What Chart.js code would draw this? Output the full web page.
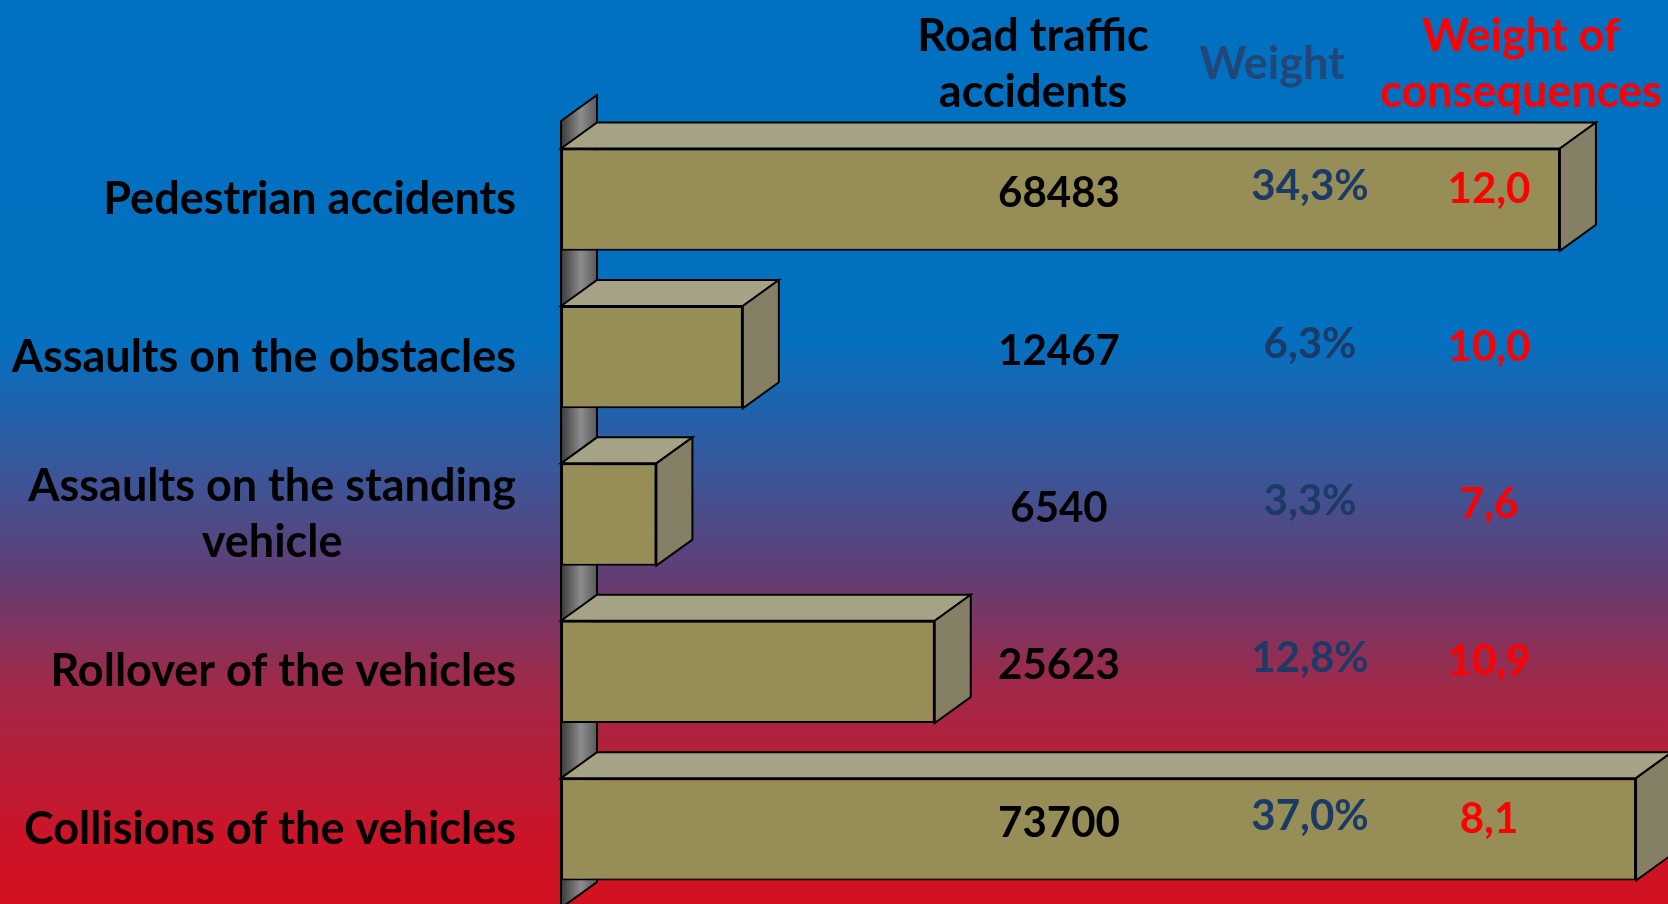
<!DOCTYPE html>
<html>
<head>
<meta charset="utf-8">
<script src="https://cdn.jsdelivr.net/npm/chart.js@4"></script>
<style>
  html, body { margin: 0; padding: 0; overflow: hidden; }
  body {
    width: 1668px; height: 904px;
    background: linear-gradient(to bottom, #0070C0 0px, #0470BF 340px, #35599E 460px, #603F76 570px, #A22848 690px, #CC1428 840px, #D2121F 904px);
  }
  #wrap { position: relative; width: 1668px; height: 908px; }
</style>
</head>
<body>
<div id="wrap"><canvas id="c"></canvas></div>
<script>
// ---- data ----
const categories = [
  'Pedestrian accidents',
  'Assaults on the obstacles',
  ['Assaults on the standing', 'vehicle'],
  'Rollover of the vehicles',
  'Collisions of the vehicles'
];
const accidents = [68483, 12467, 6540, 25623, 73700];
const weights = [34.3, 6.3, 3.3, 12.8, 37.0];
const consequences = [12.0, 10.0, 7.6, 10.9, 8.1];
const headerAccidents = ['Road traffic', 'accidents'];
const headerWeight = ['Weight'];
const headerConsequences = ['Weight of', 'consequences'];
const xMax = 75000;

// ---- styling ----
const FONT = 'Lato, "Noto Sans", sans-serif';
const DX = 36, DY = 26;
const FRONT = '#968D57', TOP = '#A6A286', SIDE = '#858065';
const fmt1 = v => v.toFixed(1).replace('.', ',');

const box3d = {
  id: 'box3d',
  beforeDatasetsDraw(chart) {
    const ctx = chart.ctx, a = chart.chartArea;
    // axis wall
    ctx.save();
    const g = ctx.createLinearGradient(a.left, 0, a.left + DX, 0);
    g.addColorStop(0, '#3a3a3a');
    g.addColorStop(0.55, '#8c8c8c');
    g.addColorStop(1, '#5a5a5a');
    ctx.beginPath();
    ctx.moveTo(a.left, a.top);
    ctx.lineTo(a.left + DX, a.top - DY);
    ctx.lineTo(a.left + DX, a.bottom - DY);
    ctx.lineTo(a.left, a.bottom);
    ctx.closePath();
    ctx.fillStyle = g; ctx.fill();
    ctx.lineWidth = 2; ctx.strokeStyle = '#000'; ctx.stroke();
    // top and side faces
    const meta = chart.getDatasetMeta(0);
    meta.data.forEach(el => {
      const yT = el.y - el.height / 2, yB = el.y + el.height / 2;
      ctx.beginPath();
      ctx.moveTo(el.base, yT);
      ctx.lineTo(el.base + DX, yT - DY);
      ctx.lineTo(el.x + DX, yT - DY);
      ctx.lineTo(el.x, yT);
      ctx.closePath();
      ctx.fillStyle = TOP; ctx.fill(); ctx.stroke();
      ctx.beginPath();
      ctx.moveTo(el.x, yT);
      ctx.lineTo(el.x + DX, yT - DY);
      ctx.lineTo(el.x + DX, yB - DY);
      ctx.lineTo(el.x, yB);
      ctx.closePath();
      ctx.fillStyle = SIDE; ctx.fill(); ctx.stroke();
    });
    ctx.restore();
  },
  afterDatasetsDraw(chart) {
    const ctx = chart.ctx, a = chart.chartArea;
    const meta = chart.getDatasetMeta(0);
    ctx.save();
    ctx.textBaseline = 'middle';
    // category labels
    ctx.font = 'bold 45px ' + FONT;
    ctx.fillStyle = '#000';
    const labelRight = a.left - 45, lh = 56;
    meta.data.forEach((el, i) => {
      const lab = chart.data.labels[i];
      const lines = Array.isArray(lab) ? lab : [lab];
      const w = Math.max(...lines.map(l => ctx.measureText(l).width));
      ctx.textAlign = 'center';
      const cx = labelRight - w / 2;
      lines.forEach((l, j) => {
        ctx.fillText(l, cx, el.y + (j - (lines.length - 1) / 2) * lh);
      });
    });
    // value columns
    ctx.font = 'bold 42px ' + FONT;
    ctx.textAlign = 'center';
    const colA = 1059, colW = 1310, colC = 1489;
    meta.data.forEach((el, i) => {
      ctx.fillStyle = '#000';
      ctx.fillText(String(accidents[i]), colA, el.y - 6);
      ctx.fillStyle = '#1B3A66';
      ctx.fillText(fmt1(weights[i]) + '%', colW, el.y - 13);
      ctx.fillStyle = '#FF0000';
      ctx.fillText(fmt1(consequences[i]), colC, el.y - 10);
    });
    // headers
    ctx.font = 'bold 45px ' + FONT;
    const hy = 36, hlh = 56;
    const drawHeader = (lines, x, color, y0) => {
      ctx.fillStyle = color;
      lines.forEach((l, j) => ctx.fillText(l, x, y0 + j * hlh));
    };
    drawHeader(headerAccidents, 1033, '#000', hy);
    drawHeader(headerWeight, 1272, '#234678', hy + hlh / 2);
    drawHeader(headerConsequences, 1521, '#FF0000', hy);
    ctx.restore();
  }
};

new Chart(document.getElementById('c'), {
  type: 'bar',
  data: {
    labels: categories,
    datasets: [{
      data: accidents,
      backgroundColor: FRONT,
      borderColor: '#000',
      borderWidth: 2,
      borderSkipped: false,
      categoryPercentage: 1,
      barPercentage: 0.65
    }]
  },
  options: {
    indexAxis: 'y',
    responsive: true,
    maintainAspectRatio: false,
    animation: false,
    layout: { padding: { left: 561, top: 121, right: 13, bottom: 0 } },
    plugins: { legend: { display: false }, tooltip: { enabled: false } },
    scales: {
      x: { display: false, min: 0, max: xMax },
      y: { display: false }
    }
  },
  plugins: [box3d]
});
</script>
</body>
</html>
